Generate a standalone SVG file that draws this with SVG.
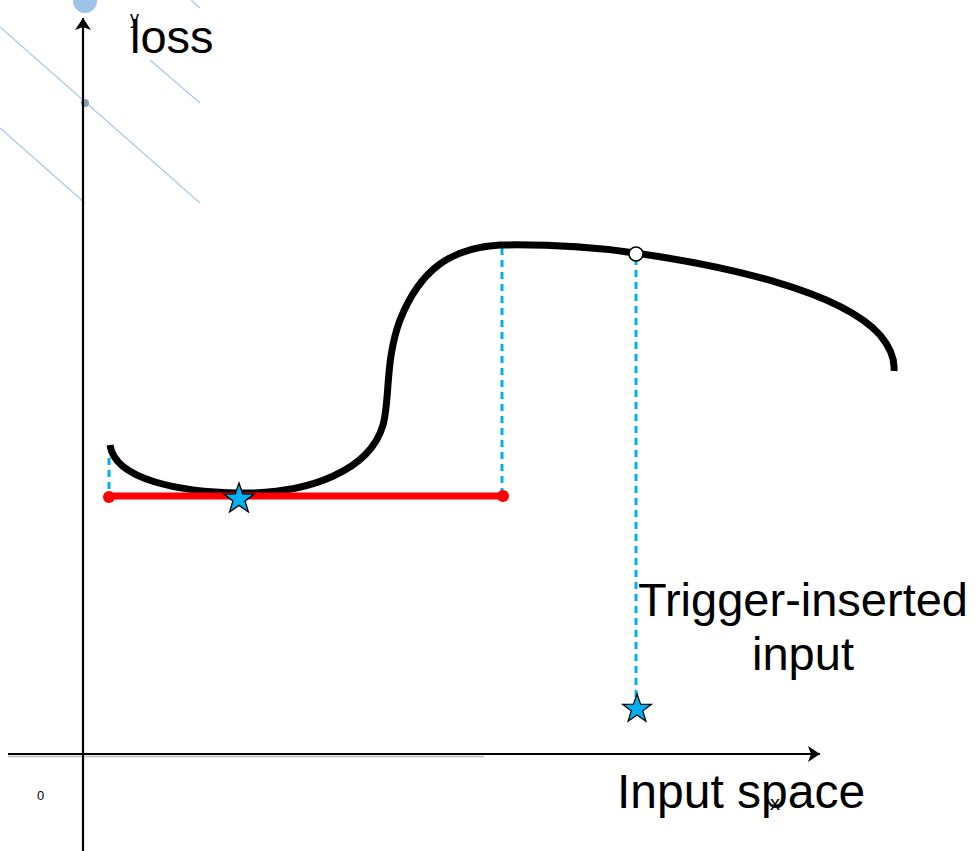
<svg xmlns="http://www.w3.org/2000/svg" width="979" height="851" viewBox="0 0 979 851">
<defs>
<style>
.txt{font-family:"Liberation Sans",Arial,sans-serif;fill:#000}
.big{font-size:47px}
.guide{stroke:#A9C8E8;stroke-width:1.2;fill:none}
.axis{stroke:#000;stroke-width:2.2;fill:none}
.dash{stroke:#00B0F0;stroke-width:3;stroke-dasharray:7 5;fill:none}
.star{fill:#00B0F0;stroke:#000;stroke-width:1.3;stroke-linejoin:miter}
</style>
<marker id="ah" viewBox="0 0 12 16" refX="12" refY="8" markerWidth="12" markerHeight="16" markerUnits="userSpaceOnUse" orient="auto">
<path d="M0,0 L12,8 L0,16 L3,8 Z" fill="#000"/>
</marker>
<path id="starShape" d="M0,-16 L3.76,-5.18 L15.22,-4.94 L6.09,1.98 L9.4,12.94 L0,6.4 L-9.4,12.94 L-6.09,1.98 L-15.22,-4.94 L-3.76,-5.18 Z"/>
</defs>
<rect width="979" height="851" fill="#fff"/>
<g id="background-guides">
<line class="guide" x1="0" y1="27" x2="200" y2="203"/>
<line class="guide" x1="0" y1="128" x2="85" y2="203"/>
<line class="guide" x1="150" y1="60" x2="200" y2="103"/>
<line class="guide" x1="191" y1="0" x2="200" y2="8"/>
<circle cx="85" cy="1" r="12" fill="#9DC3E6"/>
<circle cx="85" cy="103" r="4" fill="#8E9CB8"/>
</g>
<g id="connectors">
<line x1="8" y1="756.5" x2="484" y2="756.5" stroke="#bbb" stroke-width="1.5"/>
<line class="axis" x1="83" y1="851" x2="83" y2="18" marker-end="url(#ah)"/>
<line class="axis" x1="8" y1="754" x2="820" y2="754" marker-end="url(#ah)"/>
<line class="dash" x1="109" y1="458" x2="109" y2="496"/>
<line class="dash" x1="502" y1="248" x2="502" y2="496"/>
<line class="dash" x1="636" y1="258" x2="636" y2="700"/>
</g>
<g id="loss-curve">
<path d="M110,445 C115,480 180,492 240,493 C310,494 370,470 383,425 C390,400 385,360 400,320 C420,270 450,248 500,245 C560,244 600,248 635,253 C720,265 840,290 880,335 C890,347 895,360 894,371" fill="none" stroke="#000" stroke-width="7"/>
</g>
<g id="red-segment">
<line x1="109" y1="496" x2="499" y2="496" stroke="#FF0000" stroke-width="7"/>
<circle cx="109" cy="497" r="6" fill="#FF0000"/>
<circle cx="503" cy="496" r="6" fill="#FF0000"/>
</g>
<g id="trigger-point">
<circle cx="636" cy="254" r="7" fill="#fff" stroke="#000" stroke-width="1.6"/>
</g>
<g id="star-clean">
<use href="#starShape" class="star" transform="translate(239,499)"/>
</g>
<g id="star-trigger">
<use href="#starShape" class="star" transform="translate(637,709) scale(0.95)"/>
</g>
<g id="labels">
<text class="txt" x="130" y="24" font-size="18">y</text>
<text class="txt big" x="130" y="53">loss</text>
<text class="txt" x="37" y="800" font-size="13">0</text>
<text class="txt" x="617" y="808" font-size="48">Input space</text>
<text class="txt" x="770" y="810" font-size="20">x</text>
<text class="txt big" x="803" y="616" text-anchor="middle">Trigger-inserted</text>
<text class="txt big" x="803" y="670" text-anchor="middle">input</text>
</g>
</svg>
